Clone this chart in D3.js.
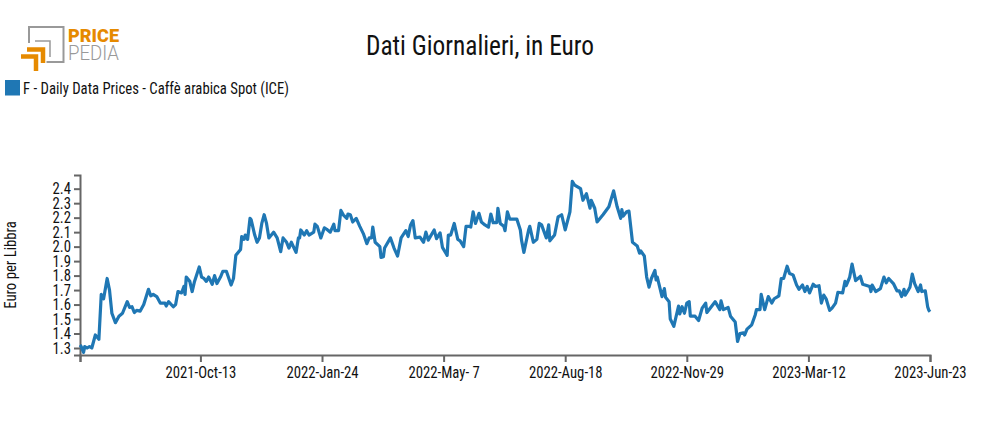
<!DOCTYPE html>
<html>
<head>
<meta charset="utf-8">
<script src="https://cdn.jsdelivr.net/npm/d3@7"></script>
<style>
	html, body { margin: 0; padding: 0; background: #fff; }
	text { font-family: "Roboto Condensed", Roboto, sans-serif; fill: #111; }
	.axis path, .axis line { stroke: #666; stroke-width: 2; }
	.axis text { font-size: 16px; fill: #111; }
</style>
</head>
<body>
<div id="chart"></div>
<script>
var chartTitle = 'Dati Giornalieri, in Euro';
var seriesName = 'F - Daily Data Prices - Caffè arabica Spot (ICE)';
var yLabel = 'Euro per Libbra';
var startDay = '2021-07-03';

// days since startDay
var days = [0,1,3,4,6,8,10,13,16,18,20,23,25,27,30,33,36,40,42,44,46,48,51,54,58,60,62,65,68,72,73,75,79,81,83,86,88,89,90,93,95,97,101,103,105,107,109,112,114,116,119,121,124,128,130,132,136,137,139,140,142,144,145,148,150,152,154,156,158,160,164,167,170,172,175,177,179,183,185,186,187,190,192,194,198,199,201,204,207,209,212,215,216,219,221,223,226,227,229,231,234,237,240,243,245,247,248,250,254,255,257,258,263,266,269,272,276,278,280,282,284,288,291,293,295,300,302,305,307,311,312,314,317,320,322,325,327,329,331,333,335,338,340,343,346,348,350,353,354,356,359,360,362,364,370,373,374,376,380,381,384,387,389,391,395,397,398,402,405,408,411,415,417,419,424,426,429,432,433,436,438,443,448,452,455,458,459,460,463,465,468,472,474,475,478,480,482,484,487,488,489,493,495,496,499,500,503,507,508,510,512,514,516,517,521,524,527,530,531,538,542,543,545,549,551,555,557,559,562,563,565,569,572,573,576,577,580,583,586,588,591,592,594,596,599,601,604,607,609,612,614,616,618,621,623,626,628,630,632,635,637,640,642,646,648,649,652,654,655,657,659,661,663,669,670,671,674,678,681,683,685,689,692,694,696,698,699,702,703,705,707,710,712,713,716,718,719,720];

var prices = [1.32,1.31,1.27,1.31,1.30,1.31,1.30,1.39,1.36,1.67,1.64,1.78,1.70,1.54,1.475,1.52,1.54,1.62,1.58,1.585,1.545,1.56,1.555,1.60,1.705,1.66,1.67,1.655,1.61,1.61,1.59,1.62,1.585,1.60,1.69,1.68,1.725,1.67,1.79,1.76,1.69,1.76,1.86,1.79,1.78,1.76,1.79,1.74,1.80,1.745,1.79,1.83,1.83,1.735,1.78,1.94,1.98,2.07,2.05,2.08,2.05,2.195,2.185,2.08,2.03,2.06,2.16,2.22,2.16,2.06,2.10,2.06,1.965,2.06,2.03,1.99,2.03,1.96,2.06,2.06,2.115,2.08,2.11,2.08,2.10,2.155,2.14,2.06,2.13,2.12,2.10,2.155,2.11,2.11,2.25,2.22,2.195,2.225,2.22,2.17,2.195,2.14,2.09,2.02,2.06,2.06,2.135,2.03,2.00,1.925,1.93,1.99,2.06,1.99,1.935,2.06,2.11,2.07,2.15,2.18,2.06,2.065,2.03,2.10,2.045,2.115,2.055,2.095,1.995,1.94,2.08,2.08,2.16,2.05,2.04,2.00,2.14,2.14,2.135,2.24,2.16,2.23,2.17,2.15,2.135,2.225,2.165,2.165,2.265,2.16,2.14,2.11,2.24,2.19,2.19,2.115,2.045,1.96,2.115,2.14,2.03,2.05,2.16,2.15,2.06,2.15,2.04,2.08,2.205,2.22,2.115,2.24,2.45,2.425,2.40,2.32,2.365,2.265,2.32,2.265,2.17,2.22,2.275,2.385,2.275,2.195,2.255,2.21,2.24,2.245,2.03,2.005,1.955,1.97,1.935,1.79,1.72,1.78,1.835,1.77,1.79,1.655,1.71,1.65,1.62,1.50,1.45,1.59,1.535,1.585,1.54,1.61,1.62,1.52,1.52,1.49,1.575,1.61,1.545,1.62,1.565,1.625,1.565,1.58,1.52,1.48,1.345,1.40,1.405,1.39,1.43,1.46,1.53,1.565,1.565,1.67,1.565,1.655,1.61,1.64,1.655,1.66,1.78,1.78,1.865,1.815,1.805,1.735,1.705,1.735,1.69,1.725,1.68,1.74,1.725,1.73,1.61,1.665,1.64,1.56,1.575,1.61,1.685,1.68,1.76,1.73,1.79,1.88,1.84,1.765,1.78,1.795,1.74,1.725,1.69,1.735,1.69,1.71,1.79,1.75,1.78,1.745,1.695,1.695,1.655,1.705,1.665,1.705,1.72,1.81,1.745,1.69,1.735,1.69,1.695,1.585,1.56,1.55];

var yTicks = [1.3,1.4,1.5,1.6,1.7,1.8,1.9,2.0,2.1,2.2,2.3,2.4];
var xTicks = ['2021-07-03','2021-10-13','2022-01-24','2022-05-07','2022-08-18','2022-11-29','2023-03-12','2023-06-23'];

var options = {
	w: 985,
	h: 430,
	plot: { left: 80, right: 930, top: 175, bottom: 355 },
	yDomain: [1.2517, 2.4945],
	color: '#1f77b4'
};

var parseDay = d3.timeParse('%Y-%m-%d');
var fmtDay = d3.timeFormat('%Y-%b-%e');
var first = parseDay(startDay);

var points = days.map(function(d, i) {
	return { date: d3.timeDay.offset(first, d), value: prices[i] };
});

// the original font is narrower than Roboto, squeeze the glyphs
function squeeze(sel, ratio) {
	sel.each(function() {
		var len = this.getComputedTextLength();
		if (len > 0) {
			d3.select(this)
				.attr('textLength', len * ratio)
				.attr('lengthAdjust', 'spacingAndGlyphs');
		}
	});
}

var svg = d3.select('#chart')
	.append('svg')
	.attr('width', options.w)
	.attr('height', options.h)
	.style('display', 'block');

var x = d3.scaleTime()
	.domain([first, parseDay(xTicks[xTicks.length - 1])])
	.range([options.plot.left, options.plot.right]);

var y = d3.scaleLinear()
	.domain(options.yDomain)
	.range([options.plot.bottom, options.plot.top]);

var xAxis = d3.axisBottom(x)
	.tickValues(xTicks.map(parseDay))
	.tickSize(7)
	.tickPadding(5)
	.tickFormat(function(d, i) { return i === 0 ? '' : fmtDay(d); });

var yAxis = d3.axisLeft(y)
	.tickValues(yTicks)
	.tickSize(6)
	.tickPadding(3)
	.tickFormat(d3.format('.1f'));

svg.append('g')
	.attr('class', 'axis')
	.attr('transform', 'translate(0,' + options.plot.bottom + ')')
	.call(xAxis)
	.selectAll('text')
	.call(squeeze, 0.92);

svg.append('g')
	.attr('class', 'axis')
	.attr('transform', 'translate(' + options.plot.left + ',0)')
	.call(yAxis)
	.selectAll('text')
	.call(squeeze, 0.92);

var line = d3.line()
	.x(function(d) { return x(d.date); })
	.y(function(d) { return y(d.value); });

svg.append('path')
	.datum(points)
	.attr('d', line)
	.attr('fill', 'none')
	.attr('stroke', options.color)
	.attr('stroke-width', 3.2)
	.attr('stroke-linejoin', 'round');

svg.append('text')
	.attr('x', 480)
	.attr('y', 55)
	.attr('text-anchor', 'middle')
	.style('font-size', '28px')
	.text(chartTitle)
	.call(squeeze, 0.905);

svg.append('rect')
	.attr('x', 5)
	.attr('y', 80)
	.attr('width', 15)
	.attr('height', 15.500)
	.attr('fill', options.color);

svg.append('text')
	.attr('x', 23)
	.attr('y', 94)
	.style('font-size', '16px')
	.text(seriesName)
	.call(squeeze, 0.92);

svg.append('text')
	.attr('transform', 'translate(16,265) rotate(-90)')
	.attr('text-anchor', 'middle')
	.style('font-size', '16px')
	.text(yLabel)
	.call(squeeze, 0.92);

// logo
var logo = svg.append('g').attr('fill', 'none');

logo.append('path')
	.attr('d', 'M29,43V27H63.500V62H46.500')
	.attr('stroke', '#999')
	.attr('stroke-width', 2);
logo.append('path')
	.attr('d', 'M35,41H50V57')
	.attr('stroke', '#999')
	.attr('stroke-width', 1.5);
logo.append('path')
	.attr('d', 'M27,49.500H43V63')
	.attr('stroke', '#e68a00')
	.attr('stroke-width', 4.500);
logo.append('path')
	.attr('d', 'M21,56.500H36V71')
	.attr('stroke', '#e68a00')
	.attr('stroke-width', 4.500);

svg.append('text')
	.attr('x', 68)
	.attr('y', 42)
	.style('font-size', '19px')
	.style('font-weight', 900)
	.style('font-family', 'Roboto, sans-serif')
	.style('fill', '#e68a00')
	.attr('textLength', 51)
	.attr('lengthAdjust', 'spacingAndGlyphs')
	.text('PRICE');

svg.append('text')
	.attr('x', 68)
	.attr('y', 60)
	.style('font-size', '21px')
	.style('font-weight', 300)
	.style('font-family', 'Roboto, sans-serif')
	.style('fill', '#999')
	.attr('textLength', 51)
	.attr('lengthAdjust', 'spacingAndGlyphs')
	.text('PEDIA');
</script>
</body>
</html>
